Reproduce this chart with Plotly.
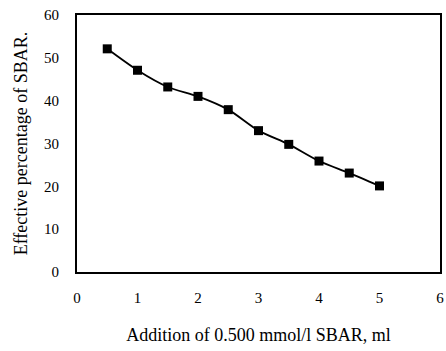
import plotly.graph_objects as go

x_ml = [0.5, 1.0, 1.5, 2.0, 2.5, 3.0, 3.5, 4.0, 4.5, 5.0]
effective_pct = [52.1, 47.1, 43.2, 41.0, 37.9, 33.0, 29.8, 25.9, 23.1, 20.1]
x_ticks = [0, 1, 2, 3, 4, 5, 6]
y_ticks = [0, 10, 20, 30, 40, 50, 60]

font_family = "Liberation Serif"

fig = go.Figure()
fig.add_trace(go.Scatter(
    x=x_ml, y=effective_pct,
    mode="lines+markers",
    line=dict(color="black", width=1.8, shape="spline", smoothing=0.8),
    marker=dict(symbol="square", size=9, color="black"),
    showlegend=False,
))

fig.update_layout(
    width=446, height=351,
    margin=dict(l=77, r=6, t=15, b=79),
    paper_bgcolor="white", plot_bgcolor="white",
    font=dict(family=font_family, color="black", size=15),
    xaxis=dict(
        range=[0, 6], tickvals=x_ticks, ticktext=[str(v) for v in x_ticks],
        automargin=False, ticklabeloverflow="allow",
        showgrid=False, zeroline=False,
        showline=True, linecolor="black", linewidth=2, mirror=True,
        ticks="outside", ticklen=11, tickcolor="rgba(0,0,0,0)",
        tickfont=dict(size=15, family=font_family),
        title=dict(text="Addition of 0.500 mmol/l SBAR, ml",
                   font=dict(size=18, family=font_family), standoff=23),
    ),
    yaxis=dict(
        range=[0, 60], tickvals=y_ticks, ticktext=[str(v) for v in y_ticks],
        automargin=False, ticklabeloverflow="allow",
        showgrid=False, zeroline=False,
        showline=True, linecolor="black", linewidth=2, mirror=True,
        ticks="outside", ticklen=13, tickcolor="rgba(0,0,0,0)",
        tickfont=dict(size=15, family=font_family),
        title=dict(text="Effective percentage of SBAR.",
                   font=dict(size=18, family=font_family), standoff=12),
    ),
)

fig.write_html(
    "out.html",
    config={"displayModeBar": False},
    post_script=(
        "document.body.style.margin='0';"
        "document.body.style.overflow='hidden';"
        "document.documentElement.style.overflow='hidden';"
    ),
)
